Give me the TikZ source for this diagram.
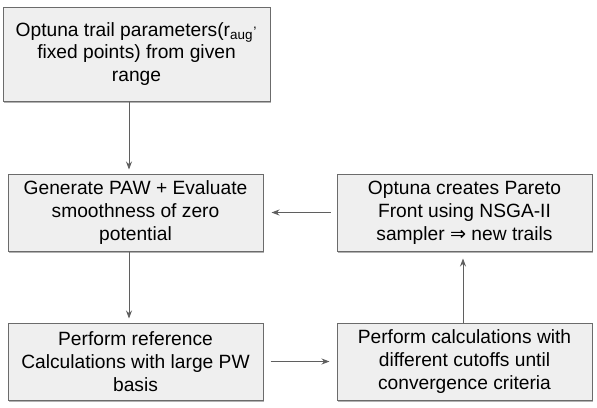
\documentclass[tikz,border=0pt]{standalone}
\usepackage{fontspec}
\setmainfont{Liberation Sans}
\newfontfamily\symfont{DejaVu Sans}
\usetikzlibrary{arrows.meta,shadows}
\definecolor{boxfill}{HTML}{EFEFEF}
\definecolor{boxline}{HTML}{6B6B6B}
\definecolor{arrowc}{HTML}{5F5F5F}
\tikzset{
 flowbox/.style={draw=boxline, line width=1pt, fill=boxfill, align=center,
   font=\fontsize{19.2}{22.8}\selectfont, inner sep=0pt,
   drop shadow={shadow xshift=1pt, shadow yshift=-1.5pt, fill=black, opacity=0.3}},
 flowarrow/.style={draw=arrowc, line width=0.9pt, -{Stealth[length=8pt,width=6pt]}}
}
\begin{document}
\begin{tikzpicture}[x=1pt,y=-1pt]
\useasboundingbox[fill=white] (0,0) rectangle (597,407);
\node[flowbox, minimum width=267pt, minimum height=94pt] (b1) at (136.5,54)
  {Optuna trail parameters(r\textsubscript{aug}\textsuperscript{,}\\fixed points) from given\\range};
\node[flowbox, minimum width=255pt, minimum height=77pt] (b2) at (135.5,212.5)
  {Generate PAW + Evaluate\\smoothness of zero\\potential};
\node[flowbox, minimum width=255pt, minimum height=77pt] (b3) at (464.5,212.5)
  {Optuna creates Pareto\\Front using NSGA-II\\sampler {\symfont ⇒} new trails};
\node[flowbox, minimum width=255pt, minimum height=77pt] (b4) at (135.5,361.5)
  {Perform reference\\Calculations with large PW\\basis};
\node[flowbox, minimum width=255pt, minimum height=77pt] (b5) at (464.5,361.5)
  {Perform calculations with\\different cutoffs until\\convergence criteria};
\coordinate (ax) at (129,0);
\coordinate (bx) at (463,0);
\draw[flowarrow, shorten >=4pt] (b1.south -| ax) -- (b2.north -| ax);
\draw[flowarrow, shorten >=4pt] (b2.south -| ax) -- (b4.north -| ax);
\draw[flowarrow, shorten <=6pt, shorten >=8pt] (b3.west) -- (b2.east);
\draw[flowarrow, shorten <=7pt, shorten >=7pt] (b4.east) -- (b5.west);
\draw[flowarrow, shorten >=7pt] (b5.north -| bx) -- (b3.south -| bx);
\end{tikzpicture}
\end{document}
